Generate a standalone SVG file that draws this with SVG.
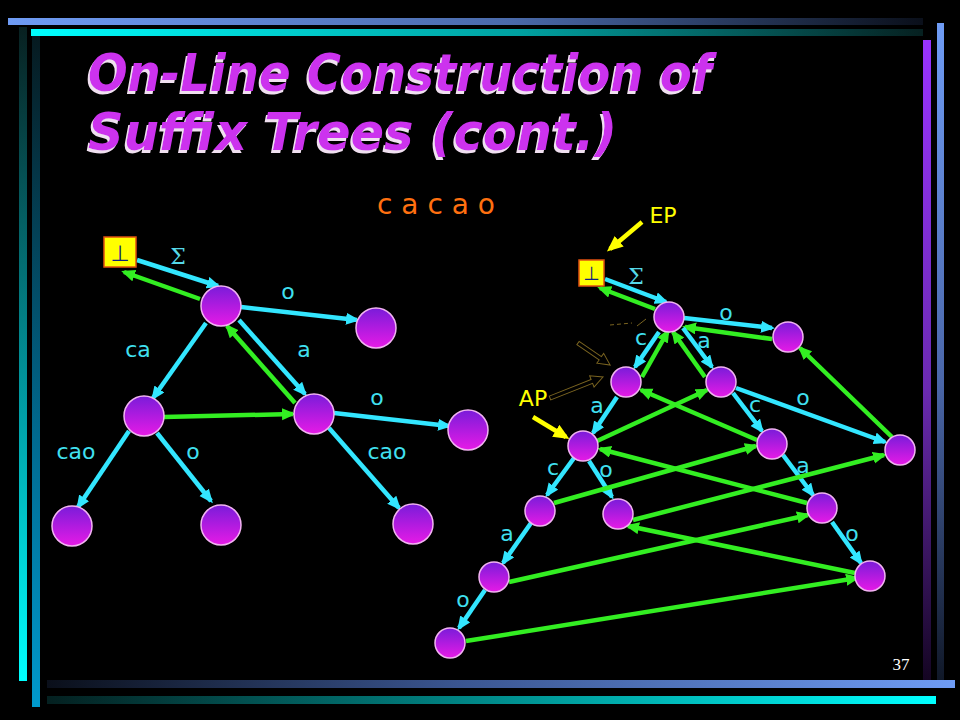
<svg xmlns="http://www.w3.org/2000/svg" width="960" height="720" viewBox="0 0 960 720">
<defs>
<linearGradient id="gTop1" x1="0" y1="0" x2="1" y2="0"><stop offset="0" stop-color="#6f9cf5"/><stop offset="0.55" stop-color="#4a6aaa"/><stop offset="1" stop-color="#0a0f1a"/></linearGradient>
<linearGradient id="gTop2" x1="0" y1="0" x2="1" y2="0"><stop offset="0" stop-color="#00ffff"/><stop offset="0.55" stop-color="#00a0a0"/><stop offset="1" stop-color="#062020"/></linearGradient>
<linearGradient id="gLeft1" x1="0" y1="0" x2="0" y2="1"><stop offset="0" stop-color="#082020"/><stop offset="0.6" stop-color="#00a0a8"/><stop offset="1" stop-color="#00ffff"/></linearGradient>
<linearGradient id="gLeft2" x1="0" y1="0" x2="0" y2="1"><stop offset="0" stop-color="#061a20"/><stop offset="0.6" stop-color="#006a90"/><stop offset="1" stop-color="#0099cc"/></linearGradient>
<linearGradient id="gBot1" x1="0" y1="0" x2="1" y2="0"><stop offset="0" stop-color="#0a0f1a"/><stop offset="0.45" stop-color="#3a5590"/><stop offset="1" stop-color="#6f9cf5"/></linearGradient>
<linearGradient id="gBot2" x1="0" y1="0" x2="1" y2="0"><stop offset="0" stop-color="#042020"/><stop offset="0.45" stop-color="#008080"/><stop offset="1" stop-color="#00ffff"/></linearGradient>
<linearGradient id="gRight1" x1="0" y1="0" x2="0" y2="1"><stop offset="0" stop-color="#9933ff"/><stop offset="0.55" stop-color="#6a2ab0"/><stop offset="1" stop-color="#140522"/></linearGradient>
<linearGradient id="gRight2" x1="0" y1="0" x2="0" y2="1"><stop offset="0" stop-color="#6f9cf5"/><stop offset="0.55" stop-color="#4a66a8"/><stop offset="1" stop-color="#101828"/></linearGradient>
<linearGradient id="gNode" x1="0" y1="0" x2="0" y2="1"><stop offset="0" stop-color="#7a1cd9"/><stop offset="1" stop-color="#e61ae6"/></linearGradient>
<filter id="shadow" x="-5%" y="-20%" width="110%" height="140%">
<feFlood flood-color="#f0e0f0"/>
<feComposite in2="SourceAlpha" operator="in"/>
<feOffset dx="-2" dy="3" result="sh"/>
<feMerge><feMergeNode in="sh"/><feMergeNode in="SourceGraphic"/></feMerge>
</filter>
<marker id="aC" markerUnits="userSpaceOnUse" markerWidth="16" markerHeight="14" refX="11" refY="6" orient="auto"><path d="M0,0 L14,6 L0,12 z" fill="#33e6ff"/></marker>
<marker id="aG" markerUnits="userSpaceOnUse" markerWidth="16" markerHeight="14" refX="11" refY="6" orient="auto"><path d="M0,0 L14,6 L0,12 z" fill="#33ee22"/></marker>
<marker id="aY" markerUnits="userSpaceOnUse" markerWidth="18" markerHeight="16" refX="12" refY="7" orient="auto"><path d="M0,0 L16,7 L0,14 z" fill="#ffff00"/></marker>
<style>
.node{fill:url(#gNode);stroke:#f2b3f2;stroke-width:1.5}
.box{fill:#ffff00;stroke:#e05010;stroke-width:1.5}
.bot{font-family:"DejaVu Sans",sans-serif;font-size:22px;fill:#102080;text-anchor:middle}
.c{stroke:#33e6ff;stroke-width:4.5;fill:none;marker-end:url(#aC)}
.g{stroke:#33ee22;stroke-width:4.5;fill:none;marker-end:url(#aG)}
.y{stroke:#ffff00;stroke-width:4.5;fill:none;marker-end:url(#aY)}
.lbl{font-family:"DejaVu Sans",sans-serif;font-size:22px;fill:#40e0f0;text-anchor:middle}
.sig{font-family:"DejaVu Serif",serif;font-size:22px;fill:#55d8e8;text-anchor:middle}
.ttl{font-family:"DejaVu Sans",sans-serif;font-size:52px;font-weight:bold;font-style:italic;fill:#cc33ee}
.ptr{font-family:"DejaVu Sans",sans-serif;font-size:22px;fill:#ffff00;text-anchor:middle}
.faint{stroke:#7a6420;stroke-width:1;fill:none}
</style>
</defs>
<rect width="960" height="720" fill="#000"/>
<g id="frame">
<rect x="8" y="18" width="915" height="7" fill="url(#gTop1)"/>
<rect x="31" y="29" width="892" height="7" fill="url(#gTop2)"/>
<rect x="19" y="27" width="8" height="654" fill="url(#gLeft1)"/>
<rect x="32" y="36" width="8" height="671" fill="url(#gLeft2)"/>
<rect x="47" y="680" width="908" height="8" fill="url(#gBot1)"/>
<rect x="47" y="696" width="889" height="8" fill="url(#gBot2)"/>
<rect x="923" y="40" width="8" height="640" fill="url(#gRight1)"/>
<rect x="937" y="23" width="7" height="657" fill="url(#gRight2)"/>
</g>
<g id="title" filter="url(#shadow)">
<text class="ttl" x="88" y="91" textLength="624" lengthAdjust="spacingAndGlyphs">On-Line Construction of</text>
<text class="ttl" x="88" y="150" textLength="529" lengthAdjust="spacingAndGlyphs">Suffix Trees (cont.)</text>
</g>
<text id="word" x="377" y="214" font-family="DejaVu Sans, sans-serif" font-size="28" fill="#ff7010" textLength="118" lengthAdjust="spacingAndGlyphs">c a c a o</text>
<text id="pagenum" x="901" y="670" font-family="Liberation Serif, serif" font-size="17" fill="#ffffff" text-anchor="middle">37</text>
<g id="connectors">
<line class="c" x1="137" y1="260" x2="218" y2="286"/>
<line class="g" x1="200" y1="299" x2="124" y2="272"/>
<line class="c" x1="241" y1="307" x2="357" y2="320"/>
<line class="c" x1="206" y1="323" x2="153" y2="398"/>
<line class="c" x1="239" y1="320" x2="305" y2="394"/>
<line class="g" x1="295" y1="403" x2="227" y2="326"/>
<line class="g" x1="164" y1="417" x2="293" y2="414"/>
<line class="c" x1="334" y1="413" x2="449" y2="426"/>
<line class="c" x1="129" y1="431" x2="78" y2="507"/>
<line class="c" x1="157" y1="433" x2="211" y2="501"/>
<line class="c" x1="329" y1="428" x2="399" y2="508"/>
<line class="c" x1="605" y1="279" x2="666" y2="302"/>
<line class="g" x1="655" y1="309" x2="600" y2="288"/>
<line class="c" x1="684" y1="318" x2="772" y2="328"/>
<line class="g" x1="772" y1="339" x2="685" y2="327"/>
<line class="c" x1="659" y1="332" x2="635" y2="367"/>
<line class="g" x1="642" y1="377" x2="668" y2="331"/>
<line class="c" x1="683" y1="328" x2="712" y2="367"/>
<line class="g" x1="705" y1="377" x2="673" y2="332"/>
<line class="c" x1="617" y1="397" x2="593" y2="433"/>
<line class="c" x1="733" y1="393" x2="762" y2="431"/>
<line class="c" x1="736" y1="388" x2="885" y2="442"/>
<line class="g" x1="892" y1="437" x2="800" y2="348"/>
<line class="g" x1="597" y1="441" x2="707" y2="390"/>
<line class="g" x1="757" y1="440" x2="641" y2="390"/>
<line class="c" x1="574" y1="458" x2="547" y2="495"/>
<line class="c" x1="589" y1="461" x2="612" y2="497"/>
<line class="c" x1="783" y1="455" x2="813" y2="495"/>
<line class="c" x1="531" y1="523" x2="503" y2="563"/>
<line class="c" x1="832" y1="522" x2="861" y2="563"/>
<line class="c" x1="485" y1="590" x2="459" y2="628"/>
<line class="g" x1="554" y1="503" x2="756" y2="446"/>
<line class="g" x1="807" y1="503" x2="600" y2="449"/>
<line class="g" x1="633" y1="520" x2="884" y2="455"/>
<line class="g" x1="509" y1="582" x2="808" y2="515"/>
<line class="g" x1="855" y1="573" x2="628" y2="526"/>
<line class="g" x1="466" y1="641" x2="857" y2="578"/>
<line class="y" x1="642" y1="222" x2="610" y2="249"/>
<line class="y" x1="533" y1="417" x2="566" y2="437"/>
<line class="faint" x1="610" y1="325" x2="632" y2="323" stroke-dasharray="4 3"/>
<line class="faint" x1="637" y1="326" x2="646" y2="319"/>
<path class="faint" transform="translate(578,343) rotate(34.5)" d="M0,-2 L27,-2 L27,-6 L39,0 L27,6 L27,2 L0,2 z"/>
<path class="faint" transform="translate(550,398) rotate(-21.6)" d="M0,-2 L45,-2 L45,-6 L57,0 L45,6 L45,2 L0,2 z"/>
</g>
<g id="edge-labels">
<text class="sig" x="178" y="264">Σ</text>
<text class="lbl" x="288" y="299">o</text>
<text class="lbl" x="138" y="357">ca</text>
<text class="lbl" x="304" y="357">a</text>
<text class="lbl" x="377" y="405">o</text>
<text class="lbl" x="76" y="459">cao</text>
<text class="lbl" x="193" y="459">o</text>
<text class="lbl" x="387" y="459">cao</text>
<text class="sig" x="636" y="284">Σ</text>
<text class="lbl" x="726" y="320">o</text>
<text class="lbl" x="641" y="345">c</text>
<text class="lbl" x="704" y="348">a</text>
<text class="lbl" x="597" y="413">a</text>
<text class="lbl" x="755" y="412">c</text>
<text class="lbl" x="803" y="405">o</text>
<text class="lbl" x="553" y="475">c</text>
<text class="lbl" x="606" y="477">o</text>
<text class="lbl" x="803" y="473">a</text>
<text class="lbl" x="507" y="541">a</text>
<text class="lbl" x="852" y="541">o</text>
<text class="lbl" x="463" y="607">o</text>
<text class="ptr" x="663" y="223">EP</text>
<text class="ptr" x="533" y="406">AP</text>
</g>
<g id="left-bottom"><rect class="box" x="104" y="237" width="32" height="30"/><text class="bot" x="120" y="261">⊥</text></g>
<g id="left-root"><circle class="node" cx="221" cy="306" r="20"/></g>
<g id="left-o"><circle class="node" cx="376" cy="328" r="20"/></g>
<g id="left-ca"><circle class="node" cx="144" cy="416" r="20"/></g>
<g id="left-a"><circle class="node" cx="314" cy="414" r="20"/></g>
<g id="left-ao"><circle class="node" cx="468" cy="430" r="20"/></g>
<g id="left-cacao"><circle class="node" cx="72" cy="526" r="20"/></g>
<g id="left-cao"><circle class="node" cx="221" cy="525" r="20"/></g>
<g id="left-acao"><circle class="node" cx="413" cy="524" r="20"/></g>
<g id="right-bottom"><rect class="box" x="579" y="260" width="25" height="26"/><text class="bot" x="591.5" y="280" style="font-size:19px">⊥</text></g>
<g id="r-root"><circle class="node" cx="669" cy="317" r="15"/></g>
<g id="r-o"><circle class="node" cx="788" cy="337" r="15"/></g>
<g id="r-c"><circle class="node" cx="626" cy="382" r="15"/></g>
<g id="r-a"><circle class="node" cx="721" cy="382" r="15"/></g>
<g id="r-ca"><circle class="node" cx="583" cy="446" r="15"/></g>
<g id="r-ac"><circle class="node" cx="772" cy="444" r="15"/></g>
<g id="r-ao"><circle class="node" cx="900" cy="450" r="15"/></g>
<g id="r-cac"><circle class="node" cx="540" cy="511" r="15"/></g>
<g id="r-cao"><circle class="node" cx="618" cy="514" r="15"/></g>
<g id="r-aca"><circle class="node" cx="822" cy="508" r="15"/></g>
<g id="r-caca"><circle class="node" cx="494" cy="577" r="15"/></g>
<g id="r-acao"><circle class="node" cx="870" cy="576" r="15"/></g>
<g id="r-cacao"><circle class="node" cx="450" cy="643" r="15"/></g>
</svg>
